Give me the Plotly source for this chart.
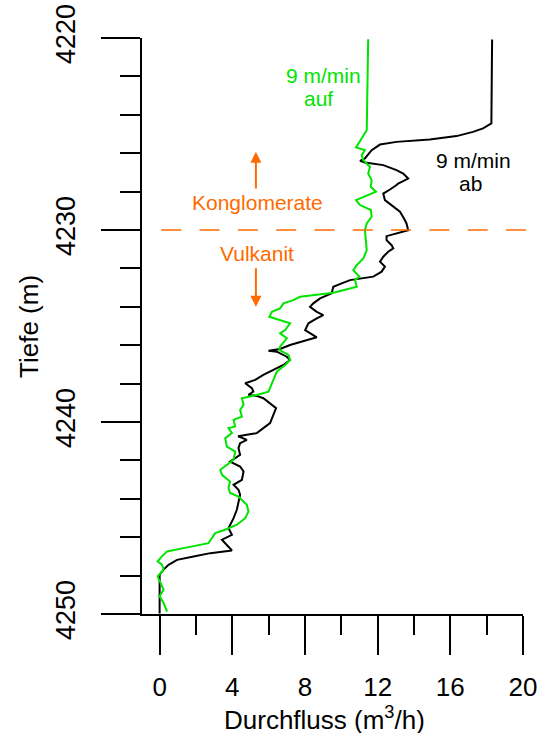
import plotly.graph_objects as go

# Flowmeter log: flow rate (m3/h) against depth (m), logged at 9 m/min
# pulling up ("auf") and running down ("ab").
auf_flow = [11.48, 11.40, 10.81, 11.30, 11.12, 11.21, 11.58, 11.48, 11.67, 11.62,
            11.91, 11.30, 10.81, 11.03, 11.63, 11.67, 11.40, 11.30, 11.36, 11.40,
            11.21, 10.85, 10.66, 10.99, 10.75, 10.85, 9.56, 7.73, 7.36, 6.81,
            6.63, 6.18, 6.04, 6.63, 7.18, 6.91, 6.63, 7.00, 6.63, 6.59,
            7.09, 7.18, 6.91, 6.45, 6.26, 6.08, 5.99, 5.35, 4.53, 4.62,
            4.43, 4.53, 4.07, 4.16, 3.79, 3.98, 3.61, 3.70, 4.16, 4.07,
            3.70, 3.34, 3.43, 3.88, 3.79, 3.88, 4.34, 4.80, 4.89, 4.71,
            4.25, 3.61, 3.06, 2.88, 2.69, 1.32, 0.41, 0.13, -0.11, 0.13,
            0.22, -0.11, 0.00, 0.22, 0.00, 0.22, 0.41]
auf_depth = [4220.07, 4224.80, 4225.70, 4225.84, 4226.10, 4226.36, 4226.71, 4227.06, 4227.40, 4227.75,
             4228.01, 4228.27, 4228.44, 4228.70, 4228.96, 4229.31, 4229.66, 4230.01, 4230.53, 4231.05,
             4231.48, 4231.83, 4232.09, 4232.43, 4232.61, 4232.96, 4233.27, 4233.48, 4233.65, 4233.82,
             4234.08, 4234.26, 4234.52, 4234.69, 4234.86, 4235.21, 4235.38, 4235.64, 4236.08, 4236.25,
             4236.51, 4236.77, 4237.03, 4237.38, 4237.81, 4238.16, 4238.42, 4238.59, 4238.76, 4239.11,
             4239.37, 4239.72, 4239.89, 4240.24, 4240.32, 4240.58, 4240.84, 4241.28, 4241.54, 4241.97,
             4242.23, 4242.49, 4242.75, 4243.10, 4243.44, 4243.70, 4243.88, 4244.31, 4244.66, 4245.01,
             4245.35, 4245.61, 4245.79, 4246.05, 4246.31, 4246.57, 4246.74, 4247.00, 4247.26, 4247.43,
             4247.69, 4248.04, 4248.30, 4248.73, 4249.08, 4249.43, 4249.87]

ab_flow = [18.30, 18.26, 17.80, 17.25, 16.34, 14.87, 13.04, 12.13, 11.67, 11.30,
           11.03, 11.30, 12.31, 13.04, 13.41, 13.68, 13.13, 13.04, 12.68, 12.31,
           12.40, 12.77, 13.23, 13.45, 13.59, 13.68, 13.04, 12.49, 12.49, 12.77,
           12.86, 12.58, 12.31, 12.13, 12.40, 12.22, 11.76, 11.03, 10.48, 10.02,
           9.56, 9.47, 8.83, 8.46, 8.28, 8.65, 9.01, 8.65, 8.19, 8.01,
           8.46, 8.65, 7.18, 6.63, 5.99, 6.45, 7.00, 7.18, 6.81, 6.08,
           5.71, 5.26, 4.80, 4.71, 5.08, 5.16, 4.89, 5.35, 5.71, 6.08,
           6.41, 6.26, 6.08, 5.71, 5.35, 4.80, 4.32, 4.80, 4.43, 4.34,
           4.43, 3.88, 4.43, 4.62, 4.53, 4.07, 4.34, 4.43, 4.34, 4.25,
           4.07, 3.79, 3.98, 3.43, 3.98, 2.79, 1.87, 0.96, 0.49, 0.22,
           0.00, 0.00]
ab_depth = [4220.08, 4224.45, 4224.71, 4224.89, 4225.11, 4225.29, 4225.41, 4225.55, 4225.84, 4226.27,
            4226.40, 4226.48, 4226.62, 4226.88, 4227.06, 4227.32, 4227.58, 4227.66, 4227.89, 4228.10,
            4228.44, 4228.70, 4229.05, 4229.40, 4229.66, 4230.01, 4230.18, 4230.32, 4230.53, 4230.79,
            4230.96, 4231.13, 4231.39, 4231.65, 4231.91, 4232.17, 4232.43, 4232.52, 4232.61, 4232.78,
            4232.96, 4233.30, 4233.56, 4233.82, 4234.00, 4234.26, 4234.43, 4234.60, 4234.86, 4235.21,
            4235.47, 4235.59, 4235.99, 4236.20, 4236.29, 4236.34, 4236.60, 4236.77, 4237.03, 4237.38,
            4237.55, 4237.81, 4237.95, 4237.98, 4238.24, 4238.42, 4238.59, 4238.64, 4238.76, 4239.02,
            4239.28, 4239.63, 4240.06, 4240.32, 4240.58, 4240.67, 4240.74, 4240.93, 4241.10, 4241.36,
            4241.71, 4242.06, 4242.32, 4242.58, 4243.01, 4243.27, 4243.53, 4243.79, 4244.14, 4244.57,
            4245.01, 4245.53, 4245.88, 4246.13, 4246.69, 4246.83, 4247.00, 4247.18, 4247.44, 4247.69,
            4247.95, 4249.98]

boundary_depth = 4230          # Konglomerate / Vulkanit contact
x_tick_vals = [0, 4, 8, 12, 16, 20]
y_tick_vals = [4220, 4230, 4240, 4250]

FONT = "Liberation Sans, Arial, sans-serif"
GREEN = "#00E400"
ORANGE = "#FF6A00"

fig = go.Figure()
fig.add_trace(go.Scatter(x=ab_flow, y=ab_depth, mode="lines",
                         line=dict(color="black", width=2), name="ab"))
fig.add_trace(go.Scatter(x=auf_flow, y=auf_depth, mode="lines",
                         line=dict(color=GREEN, width=2), name="auf"))

# lithological boundary
fig.add_shape(type="line", xref="paper", yref="y",
              x0=0.0506, x1=1.008, y0=boundary_depth, y1=boundary_depth,
              line=dict(color=ORANGE, width=1.3, dash="20px,18.3px"))

def label(text, x, y, color, size=21):
    fig.add_annotation(x=x, y=y, xref="x", yref="y", text=text, showarrow=False,
                       font=dict(family=FONT, size=size, color=color),
                       xanchor="center", yanchor="middle")

label("9 m/min", 9.0, 4221.95, GREEN)
label("auf", 8.75, 4223.15, GREEN)
label("9 m/min", 17.25, 4226.4, "black")
label("ab", 17.1, 4227.6, "black")
label("Konglomerate", 5.4, 4228.55, ORANGE)
label("Vulkanit", 5.35, 4231.2, ORANGE)

# direction arrows
for tip, tail in [(4225.93, 4227.92), (4234.0, 4231.91)]:
    fig.add_annotation(x=5.3, y=tip, ax=5.3, ay=tail, xref="x", yref="y",
                       axref="x", ayref="y", text="", showarrow=True,
                       arrowhead=2, arrowsize=1.1, arrowwidth=2, arrowcolor=ORANGE)

# axis titles
fig.add_annotation(text="Durchfluss (m<sup>3</sup>/h)", xref="paper", yref="paper",
                   x=0.4777, y=-0.1806, showarrow=False, xanchor="center", yanchor="middle",
                   font=dict(family=FONT, size=26, color="black"))
fig.add_annotation(text="Tiefe (m)", xref="paper", yref="paper", textangle=-90,
                   x=-0.2966, y=0.5, showarrow=False, xanchor="center", yanchor="middle",
                   font=dict(family=FONT, size=26, color="black"))

fig.update_layout(
    width=546, height=733,
    margin=dict(l=142, r=23, t=38, b=119, autoexpand=False),
    paper_bgcolor="white", plot_bgcolor="white",
    showlegend=False,
    font=dict(family=FONT, size=26, color="black"),
    xaxis=dict(range=[-0.97, 20.001], showgrid=False, zeroline=False, automargin=False,
               showline=True, linecolor="black", linewidth=2,
               tickmode="array", tickvals=x_tick_vals,
               ticks="outside", ticklen=39, tickwidth=2, tickcolor="black",
               minor=dict(dtick=2, tick0=0, ticks="outside", ticklen=19,
                          tickwidth=2, tickcolor="black"),
               tickfont=dict(family=FONT, size=26), ticklabelstandoff=10),
    yaxis=dict(range=[4250, 4220], showgrid=False, zeroline=False, automargin=False,
               showline=True, linecolor="black", linewidth=2,
               tickmode="array", tickvals=y_tick_vals, tickangle=-90,
               ticks="outside", ticklen=39, tickwidth=2, tickcolor="black",
               minor=dict(dtick=2, tick0=4220, ticks="outside", ticklen=20,
                          tickwidth=2, tickcolor="black"),
               tickfont=dict(family=FONT, size=27), ticklabelstandoff=15),
)

fig.write_html("out.html")
